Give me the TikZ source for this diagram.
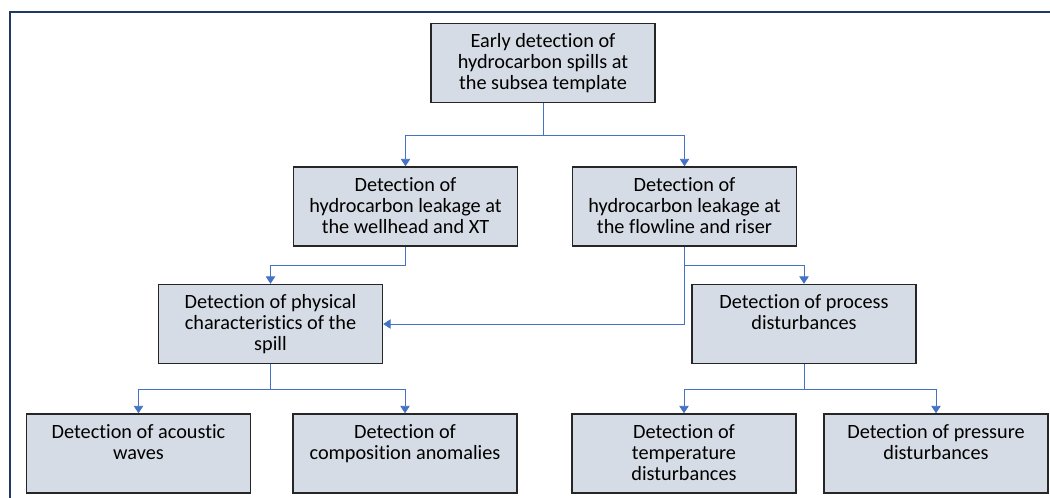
\documentclass[tikz,border=0pt]{standalone}
\usepackage{fontspec}
\setmainfont{Carlito}[Ligatures=NoCommon]
\usetikzlibrary{arrows.meta}
\definecolor{boxfill}{HTML}{D6DCE5}
\definecolor{boxline}{HTML}{262626}
\definecolor{linkblue}{HTML}{4472C4}
\definecolor{framenavy}{HTML}{1F3864}
% fixed-size box body with the text set from the top edge
\newcommand\boxtext[1]{\parbox[c][59.25pt][t]{168pt}{\centering\fontsize{15.2}{15.75}\selectfont\vspace*{7.2pt}\strut#1\par}}
\begin{document}
\begin{tikzpicture}[x=0.75pt,y=-0.75pt,
  box/.style={draw=boxline, fill=boxfill, line width=1.1pt, inner sep=0pt},
  link/.style={draw=linkblue, line width=0.6pt},
  conn/.style={link, -{Triangle[width=7pt,length=5.5pt]}}]
\useasboundingbox (0,0) rectangle (1050,497);
\clip (0,0) rectangle (1050,497);
\fill[white] (0,0) rectangle (1050,497);
% outer frame
\draw[framenavy, line width=1.5pt] (10,520) -- (10,11.5) -- (1070,11.5);

% boxes
\node[box] (root) at (543,63)    {\boxtext{Early detection of\\hydrocarbon spills at\\the subsea template}};
\node[box] (well) at (405.5,206.5) {\boxtext{Detection of\\hydrocarbon leakage at\\the wellhead and XT}};
\node[box] (flow) at (684.5,206.5) {\boxtext{Detection of\\hydrocarbon leakage at\\the flowline and riser}};
\node[box] (phys) at (270.5,324) {\boxtext{Detection of physical\\characteristics of the\\spill}};
\node[box] (proc) at (804,324)   {\boxtext{Detection of process\\disturbances}};
\node[box] (acou) at (138.5,453.5) {\boxtext{Detection of acoustic\\waves}};
\node[box] (comp) at (405,453.5) {\boxtext{Detection of\\composition anomalies}};
\node[box] (temp) at (684,453.5) {\boxtext{Detection of\\temperature\\disturbances}};
\node[box] (pres) at (936,453.5) {\boxtext{Detection of pressure\\disturbances}};

% connectors
\draw[conn] (root.south) -- ++(0,32) -| (well.north);
\draw[conn] (root.south) -- ++(0,32) -| (flow.north);
\draw[conn] (well.south) -- ++(0,19) -| (phys.north);
\draw[conn] (flow.south) -- ++(0,19) -| (proc.north);
\draw[conn] (flow.south) |- (phys.east);
\draw[conn] (phys.south) -- ++(0,25) -| (acou.north);
\draw[conn] (phys.south) -- ++(0,25) -| (comp.north);
\draw[conn] (proc.south) -- ++(0,25) -| (temp.north);
\draw[conn] (proc.south) -- ++(0,25) -| (pres.north);
\end{tikzpicture}
\end{document}
